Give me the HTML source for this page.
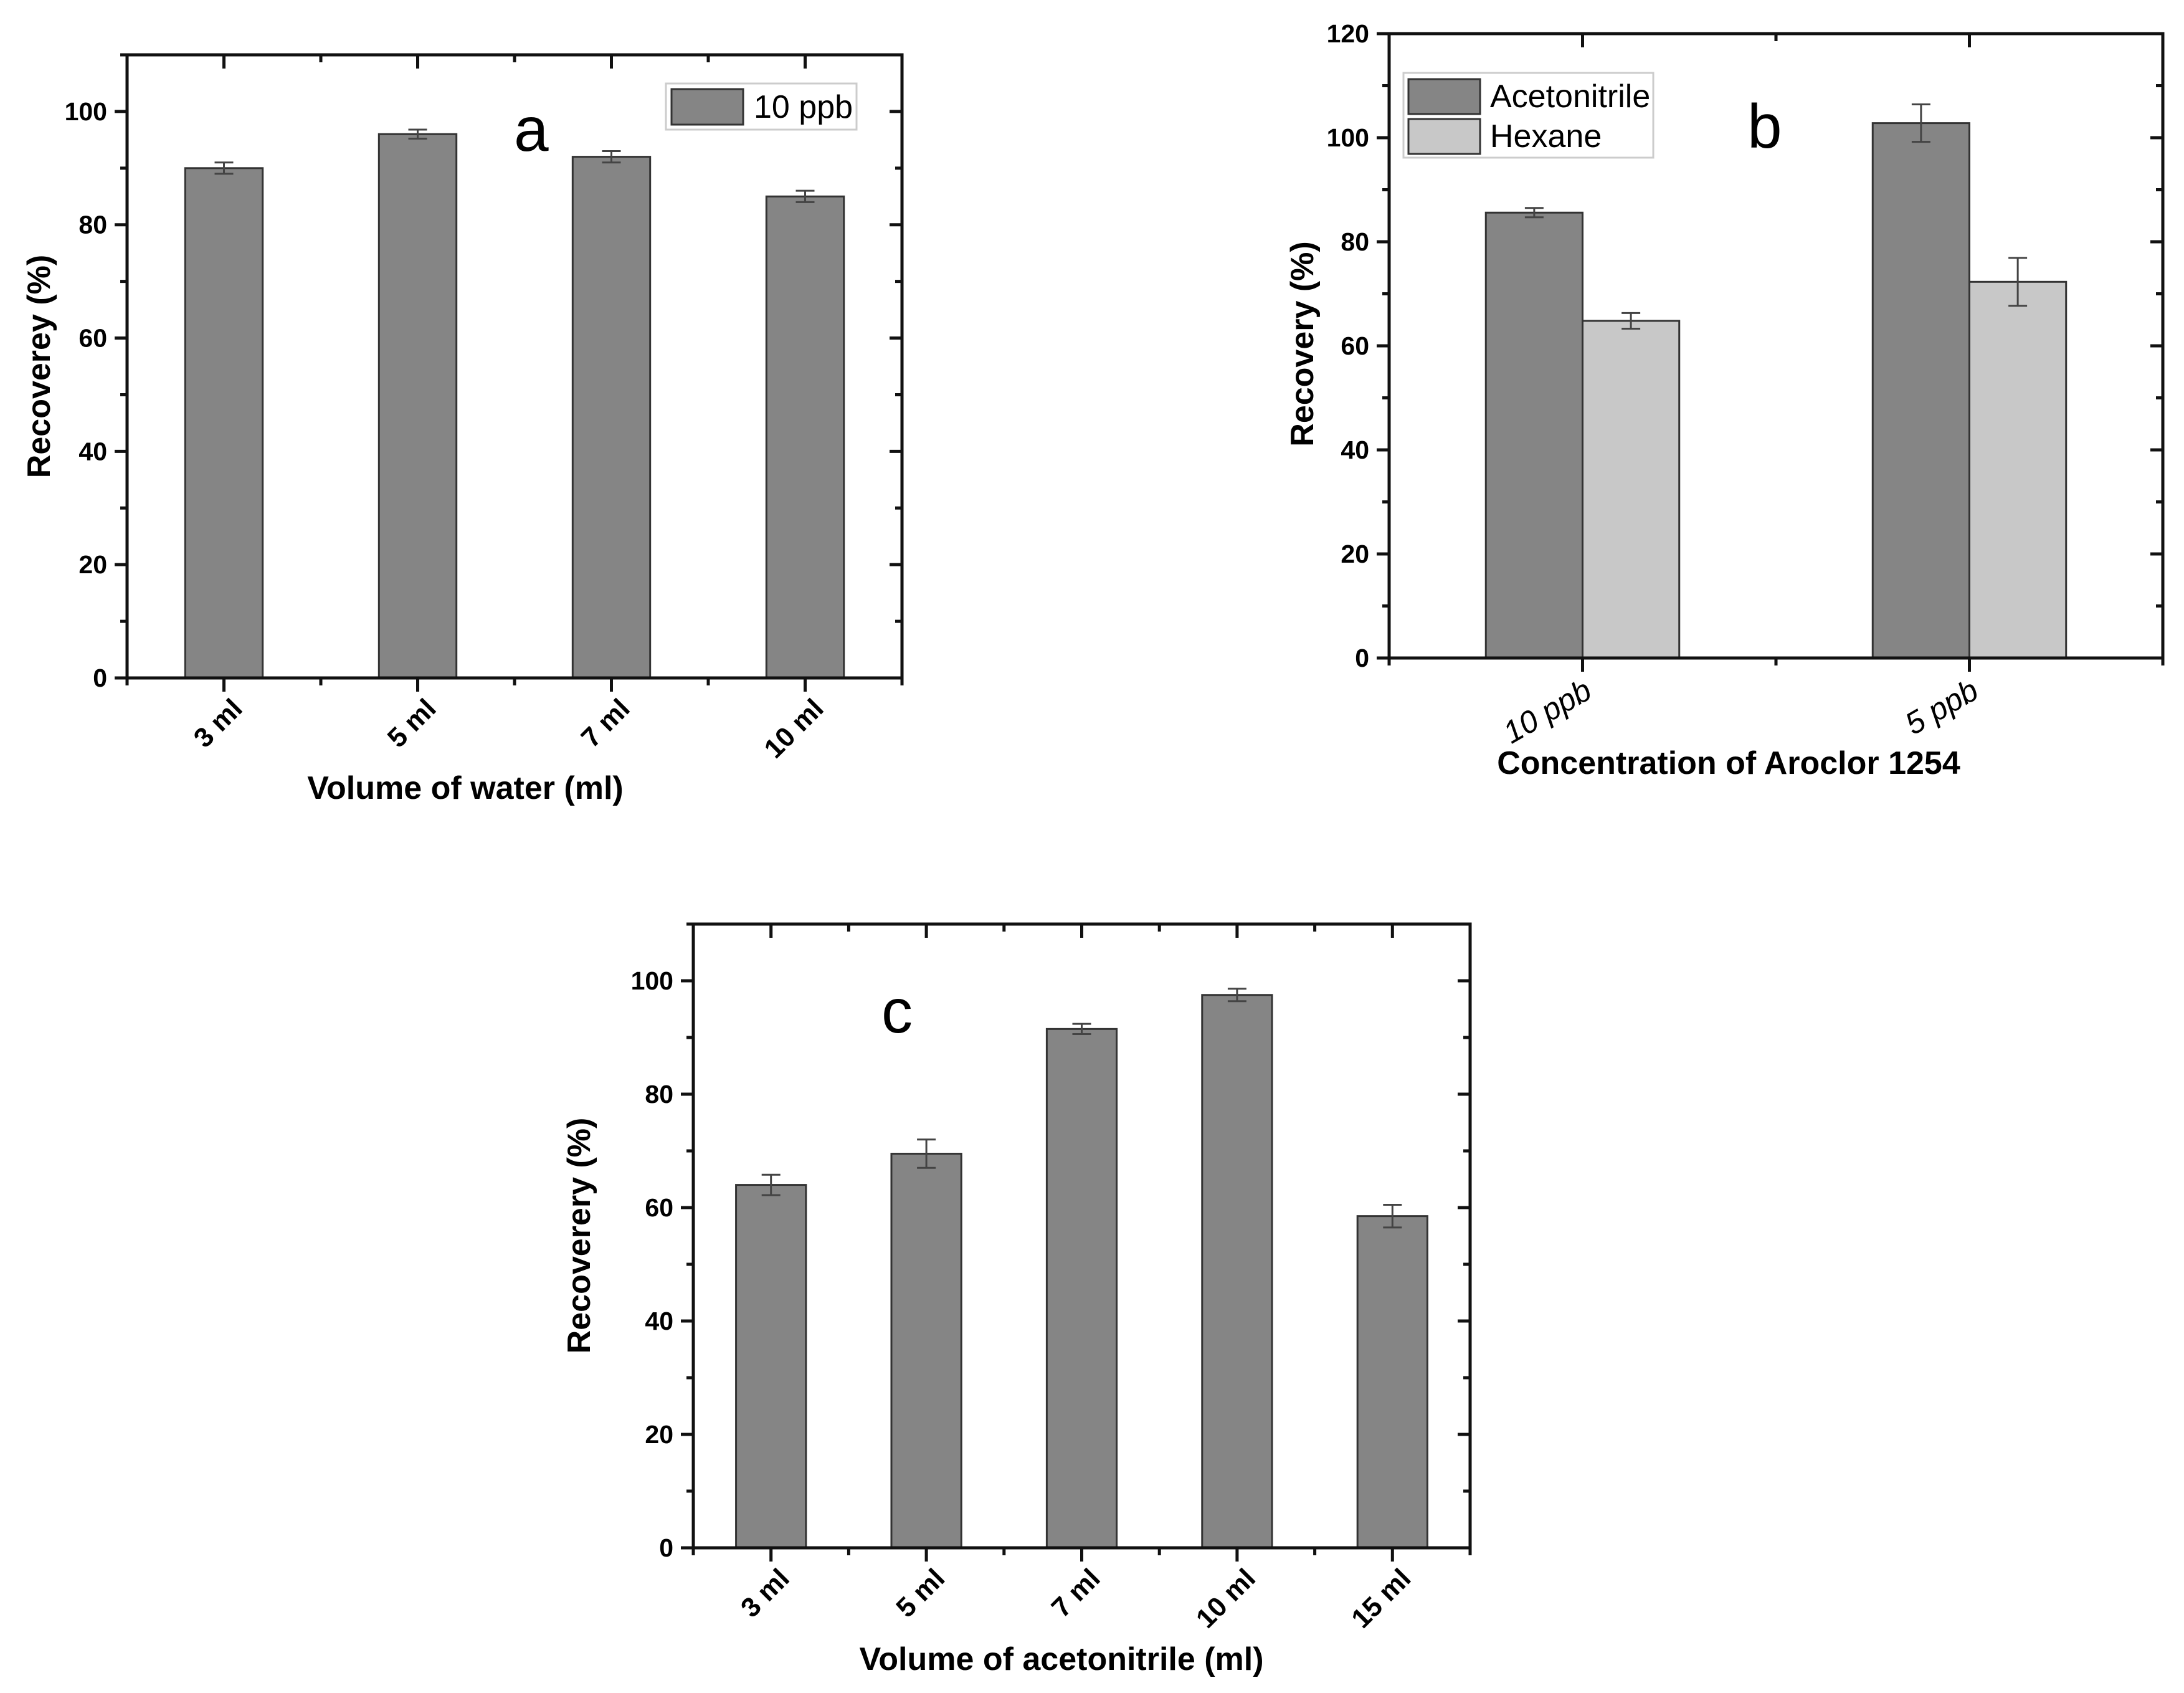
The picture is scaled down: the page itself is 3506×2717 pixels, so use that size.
<!DOCTYPE html>
<html><head><meta charset="utf-8"><style>
html,body{margin:0;padding:0;background:#fff}
svg{display:block}
text{font-family:"Liberation Sans",Arial,sans-serif}
</style></head><body>
<svg id="fig" xmlns="http://www.w3.org/2000/svg" width="3506" height="2717" viewBox="0 0 3506 2717">
<rect width="3506" height="2717" fill="#fff"/>
<g id="pa"></g>
<g id="pb"></g>
<g id="pc"></g>
<text x="825" y="242" font-size="100">a</text>
<text x="2805" y="237" font-size="100">b</text>
<text x="1415" y="1657" font-size="100">c</text>
<text x="747" y="1282" font-size="52" font-weight="bold" text-anchor="middle">Volume of water (ml)</text>
<text transform="translate(80,588) rotate(-90)" font-size="52" font-weight="bold" text-anchor="middle">Recoverey (%)</text>
<text x="2775" y="1242" font-size="52" font-weight="bold" text-anchor="middle">Concentration of Aroclor 1254</text>
<text transform="translate(2108,552) rotate(-90)" font-size="52" font-weight="bold" text-anchor="middle">Recovery (%)</text>
<text x="1704" y="2680" font-size="52" font-weight="bold" text-anchor="middle">Volume of acetonitrile (ml)</text>
<text transform="translate(947,1983) rotate(-90)" font-size="52" font-weight="bold" text-anchor="middle">Recoverery (%)</text>
</svg>
<script>
const catsA = ["3 ml","5 ml","7 ml","10 ml"];
const valsA = [90, 96, 92, 85];
const errA = [1.0, 0.8, 1.0, 1.0];
const catsB = ["10 ppb","5 ppb"];
const acetoB = [85.6, 102.8];
const acetoErrB = [0.9, 3.6];
const hexB = [64.8, 72.3];
const hexErrB = [1.5, 4.6];
const catsC = ["3 ml","5 ml","7 ml","10 ml","15 ml"];
const valsC = [64, 69.5, 91.5, 97.5, 58.5];
const errC = [1.8, 2.5, 0.9, 1.1, 2.0];
const ticksA = [0,20,40,60,80,100];
const ticksB = [0,20,40,60,80,100,120];
const ticksC = [0,20,40,60,80,100];

const NS="http://www.w3.org/2000/svg";
function mk(parent,tag,attrs){const e=document.createElementNS(NS,tag);for(const k in attrs)e.setAttribute(k,attrs[k]);parent.appendChild(e);return e;}

function panel(g,cfg){
  const {L,R,T,B,ymax,cats,series,ticks,italic,rot,name}=cfg;
  const n=cats.length, sp=(R-L)/n;
  const y=v=>B-(B-T)*v/ymax;
  const xc=i=>L+sp*(i+0.5);
  series.forEach((s,si)=>{
    s.vals.forEach((v,i)=>{
      const x0=xc(i)+s.off*sp;
      const r=mk(g,'rect',{x:x0,y:y(v),width:s.w*sp,height:B-y(v),fill:s.fill,stroke:'#333','stroke-width':3});
      
      
    });
  });
  series.forEach((s,si)=>{
    s.vals.forEach((v,i)=>{
      const cx=xc(i)+s.off*sp+s.w*sp/2, e=s.err[i];
      const eb=mk(g,'path',{d:`M${cx},${y(v+e)}V${y(v-e)}M${cx-15},${y(v+e)}H${cx+15}M${cx-15},${y(v-e)}H${cx+15}`,stroke:'#444','stroke-width':3,fill:'none'});
      
      
    });
  });
  const fr=mk(g,'rect',{x:L,y:T,width:R-L,height:B-T,fill:'none',stroke:'#111','stroke-width':5});
  
  
  let d='';
  for(let v=0;v<=ymax+0.01;v+=10){
    const major=ticks.indexOf(v)>=0;
    const yy=y(v), len=major?20:11;
    d+=`M${L-len},${yy}H${L}M${R-len},${yy}H${R}`;
  }
  for(let i=0;i<=n*2;i++){
    const xx=L+sp*i/2, major=i%2===1;
    const len=major?22:12;
    d+=`M${xx},${B}V${B+len}M${xx},${T}V${T+len}`;
  }
  const tk=mk(g,'path',{d:d,stroke:'#111','stroke-width':5,fill:'none'});
  
  
  ticks.forEach(v=>{
    const t=mk(g,'text',{x:L-32,y:y(v)+14,'font-size':41,'font-weight':'bold','text-anchor':'end'});
    t.textContent=v;
    
    
  });
  cats.forEach((c,i)=>{
    const ax=xc(i)+(italic?18:32), ay=B+(italic?62:52);
    const t=mk(g,'text',{transform:`translate(${ax},${ay}) rotate(${rot})`,'font-size':italic?50:44,'font-weight':italic?'normal':'bold','font-style':italic?'italic':'normal','text-anchor':'end'});
    t.textContent=c;
    
    
  });
}

panel(document.getElementById('pa'),{name:'panel-a',L:204,R:1448,T:88,B:1088,ymax:110,cats:catsA,ticks:ticksA,italic:false,rot:-45,
  series:[{key:'10ppb',vals:valsA,err:errA,off:-0.2,w:0.4,fill:'#858585'}]});
panel(document.getElementById('pb'),{name:'panel-b',L:2230,R:3472,T:54,B:1056,ymax:120,cats:catsB,ticks:ticksB,italic:true,rot:-30,
  series:[{key:'acetonitrile',vals:acetoB,err:acetoErrB,off:-0.25,w:0.25,fill:'#858585'},
          {key:'hexane',vals:hexB,err:hexErrB,off:0,w:0.25,fill:'#c8c8c8'}]});
panel(document.getElementById('pc'),{name:'panel-c',L:1113,R:2360,T:1483,B:2484,ymax:110,cats:catsC,ticks:ticksC,italic:false,rot:-45,
  series:[{key:'recovery',vals:valsC,err:errC,off:-0.225,w:0.45,fill:'#858585'}]});

const svg=document.getElementById('fig');
const la=mk(svg,'g',{});


mk(la,'rect',{x:1069,y:134,width:306,height:74,fill:'#fff',stroke:'#ccc','stroke-width':3});
mk(la,'rect',{x:1078,y:143,width:115,height:57,fill:'#858585',stroke:'#333','stroke-width':3});
const lat=mk(la,'text',{x:1210,y:189,'font-size':52});lat.textContent='10 ppb';
const lb=mk(svg,'g',{});


mk(lb,'rect',{x:2253,y:117,width:401,height:136,fill:'#fff',stroke:'#ccc','stroke-width':3});
mk(lb,'rect',{x:2261,y:127,width:115,height:56,fill:'#858585',stroke:'#333','stroke-width':3});
mk(lb,'rect',{x:2261,y:191,width:115,height:56,fill:'#c8c8c8',stroke:'#333','stroke-width':3});
const lb1=mk(lb,'text',{x:2392,y:172,'font-size':52});lb1.textContent='Acetonitrile';
const lb2=mk(lb,'text',{x:2392,y:236,'font-size':52});lb2.textContent='Hexane';
</script>
</body></html>
